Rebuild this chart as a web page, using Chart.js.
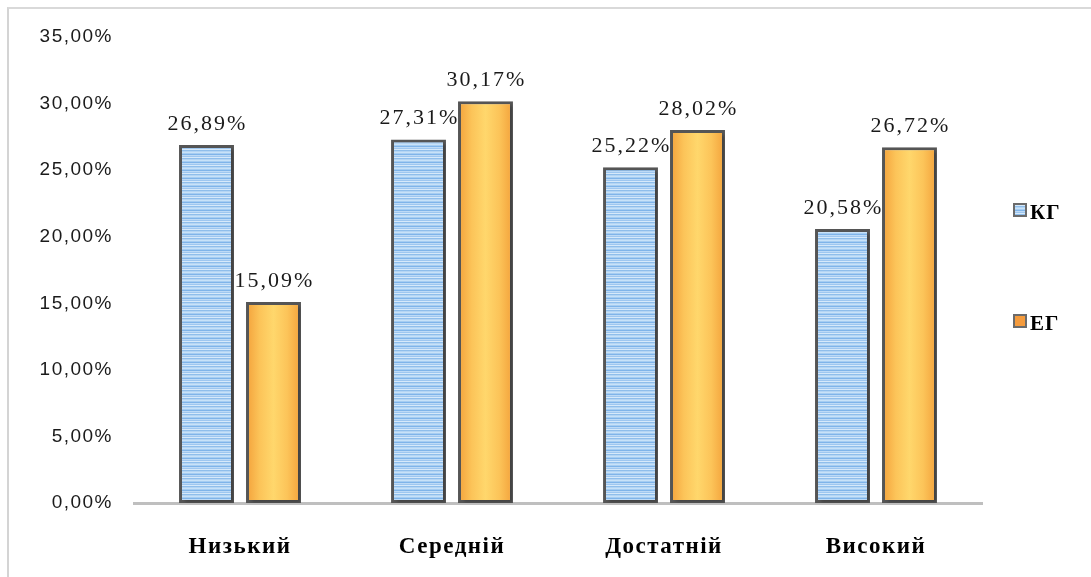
<!DOCTYPE html>
<html>
<head>
<meta charset="utf-8">
<script src="https://cdn.jsdelivr.net/npm/chart.js@4/dist/chart.umd.min.js"></script>
<style>
  html, body { margin: 0; padding: 0; background: #fff; }
  #wrap { position: relative; width: 1091px; height: 577px; }
  #frame { position: absolute; left: 7px; top: 7px; right: 0; bottom: 0;
           border-top: 2px solid #d9d9d9; border-left: 2px solid #d4d4d4; }
  #c { position: absolute; left: 0; top: 0; }
</style>
</head>
<body>
<div id="wrap">
  <div id="frame"></div>
  <canvas id="c" width="1091" height="577"></canvas>
</div>
<script>
// Levels and group results, in percent
const categories = ['Низький', 'Середній', 'Достатній', 'Високий'];
const seriesNames = ['КГ', 'ЕГ'];
const kgValues = [26.89, 27.31, 25.22, 20.58];
const egValues = [15.09, 30.17, 28.02, 26.72];
const yTicks = [0, 5, 10, 15, 20, 25, 30, 35];

const CAT_PCT = 0.632;
const BAR_PCT = 0.82;

const fmt = v => v.toFixed(2).replace('.', ',') + '%';

// Striped blue fill for the control group
function makeStripes() {
  const rows = ['#c8e2f8', '#a6cdf2', '#7fb4e9', '#bddaf6', '#9ec7f0', '#d6e9fa', '#8fbeeb', '#b4d5f4'];
  const p = document.createElement('canvas');
  p.width = 8; p.height = rows.length;
  const g = p.getContext('2d');
  rows.forEach((c, i) => { g.fillStyle = c; g.fillRect(0, i, 8, 1); });
  return g.createPattern(p, 'repeat');
}
const stripes = makeStripes();

// Orange fill: darker at the edges, light in the middle of each bar
function orangeFill(ctx) {
  const chart = ctx.chart;
  const xs = chart.scales && chart.scales.x;
  if (!xs || !isFinite(xs.width) || xs.width <= 0 || ctx.dataIndex === undefined) return '#fbc458';
  const step = xs.getPixelForValue(1) - xs.getPixelForValue(0);
  const slot = step * CAT_PCT / 2;
  const cx = xs.getPixelForValue(ctx.dataIndex) + slot / 2;
  const w = slot * BAR_PCT;
  const g = chart.ctx.createLinearGradient(cx - w / 2, 0, cx + w / 2, 0);
  g.addColorStop(0, '#f3a13a');
  g.addColorStop(0.25, '#fcc459');
  g.addColorStop(0.5, '#ffd76c');
  g.addColorStop(0.75, '#fcc459');
  g.addColorStop(1, '#f3a13a');
  return g;
}

const SERIF = '"Liberation Serif", "Times New Roman", serif';
const SANS = '"Liberation Sans", Arial, sans-serif';

// Slightly loose text spacing for all chart text
const textSpacing = {
  id: 'textSpacing',
  beforeDraw(chart) { chart.ctx.letterSpacing = '1.5px'; }
};

// Soft shadow behind the bars
const barShadow = {
  id: 'barShadow',
  beforeDatasetsDraw(chart) {
    const c = chart.ctx;
    c.save();
    c.shadowColor = 'rgba(0,0,0,0.22)';
    c.shadowOffsetX = 3;
    c.shadowOffsetY = 2;
    c.shadowBlur = 3;
  },
  afterDatasetsDraw(chart) {
    chart.ctx.restore();
  }
};

// Value labels above each bar
const valueLabels = {
  id: 'valueLabels',
  afterDatasetsDraw(chart) {
    const c = chart.ctx;
    c.save();
    c.letterSpacing = '2px';
    c.font = '22px ' + SERIF;
    c.fillStyle = '#1a1a1a';
    c.textAlign = 'center';
    c.textBaseline = 'middle';
    chart.data.datasets.forEach((ds, di) => {
      chart.getDatasetMeta(di).data.forEach((bar, i) => {
        c.fillText(fmt(ds.data[i]), bar.x + 1, bar.y - 21);
      });
    });
    c.restore();
  }
};

// Legend on the right, one entry per series
const sideLegend = {
  id: 'sideLegend',
  afterDraw(chart) {
    const c = chart.ctx;
    const tops = [203, 314];
    c.save();
    chart.data.datasets.forEach((ds, di) => {
      const x = 1013, y = tops[di];
      c.fillStyle = ds.legendFill;
      c.fillRect(x, y, 14, 14);
      c.strokeStyle = '#6b6b6b';
      c.lineWidth = 2;
      c.strokeRect(x + 1, y + 1, 12, 12);
      c.fillStyle = '#000';
      c.letterSpacing = '1px';
      c.font = 'bold 21px ' + SERIF;
      c.textAlign = 'left';
      c.textBaseline = 'middle';
      c.fillText(ds.label, x + 17, y + 11);
    });
    c.restore();
  }
};

new Chart(document.getElementById('c'), {
  type: 'bar',
  data: {
    labels: categories,
    datasets: [
      {
        label: seriesNames[0],
        data: kgValues,
        backgroundColor: stripes,
        legendFill: stripes,
        borderColor: '#555555',
        borderWidth: 3,
        borderSkipped: false,
        categoryPercentage: CAT_PCT,
        barPercentage: BAR_PCT
      },
      {
        label: seriesNames[1],
        data: egValues,
        backgroundColor: orangeFill,
        legendFill: '#f59b3c',
        borderColor: '#555555',
        borderWidth: 3,
        borderSkipped: false,
        categoryPercentage: CAT_PCT,
        barPercentage: BAR_PCT
      }
    ]
  },
  options: {
    responsive: false,
    animation: false,
    layout: { padding: { left: 0, top: 37, right: 109, bottom: 0 } },
    plugins: {
      legend: { display: false },
      tooltip: { enabled: false }
    },
    scales: {
      x: {
        grid: { display: false, drawTicks: false },
        border: { display: true, color: '#bfbfbf', width: 3 },
        ticks: {
          padding: 30,
          color: '#000',
          font: { family: SERIF, size: 23, weight: 'bold' }
        },
        afterFit(s) { s.height = 74; }
      },
      y: {
        min: yTicks[0],
        max: yTicks[yTicks.length - 1],
        afterBuildTicks(s) { s.ticks = yTicks.map(v => ({ value: v })); },
        grid: { display: false, drawTicks: false },
        border: { display: false },
        ticks: {
          padding: 21,
          color: '#1a1a1a',
          font: { family: SANS, size: 19 },
          callback: v => fmt(v)
        },
        afterFit(s) { s.width = 134; }
      }
    }
  },
  plugins: [textSpacing, barShadow, valueLabels, sideLegend]
});
</script>
</body>
</html>
